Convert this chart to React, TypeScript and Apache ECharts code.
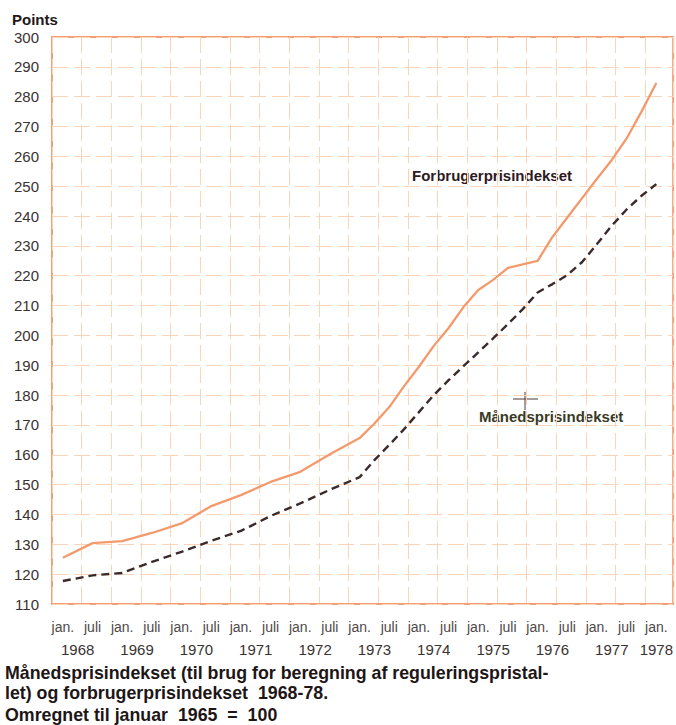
import React, { useEffect, useRef } from 'react';
import * as echarts from 'echarts';

// months since January 1968
const monthPoints = [0, 6, 12, 18, 24, 30, 36, 42, 48, 54, 60, 63, 66, 69, 72, 75, 78, 81, 84, 87, 90, 93, 96, 99, 102, 105, 108, 111, 114, 117, 120];
const forbrugerValues = [125.5, 130.4, 131.1, 133.8, 137, 142.8, 146.5, 150.9, 154.3, 160.2, 165.6, 170.5, 176, 183, 189.5, 196.5, 202.5, 209.5, 215.2, 218.6, 222.6, 223.8, 225, 233, 239.5, 246, 252.5, 258.8, 266, 275, 284.6];
const maanedsValues = [117.7, 119.6, 120.4, 124.1, 127.5, 131.2, 134.5, 139.5, 143.7, 148.3, 152.5, 158.2, 163.3, 168.6, 174.3, 180, 185, 189.7, 194.3, 199, 203.8, 208.8, 214.4, 217.2, 220.2, 224.6, 230.6, 236.8, 242.2, 246.8, 250.7];

const halfYearTicks = [0, 6, 12, 18, 24, 30, 36, 42, 48, 54, 60, 66, 72, 78, 84, 90, 96, 102, 108, 114, 120];
const halfYearLabels = ['jan.', 'juli', 'jan.', 'juli', 'jan.', 'juli', 'jan.', 'juli', 'jan.', 'juli', 'jan.', 'juli', 'jan.', 'juli', 'jan.', 'juli', 'jan.', 'juli', 'jan.', 'juli', 'jan.'];
const yearTicks = [3, 15, 27, 39, 51, 63, 75, 87, 99, 111, 120];
const yearLabels = ['1968', '1969', '1970', '1971', '1972', '1973', '1974', '1975', '1976', '1977', '1978'];

const FONT = '"Liberation Sans", Arial, sans-serif';
const GRID_LINE = { color: '#f9d4b8', width: 1, type: [16, 6] as number[] };

export default function App() {
  const ref = useRef<HTMLDivElement>(null);
  useEffect(() => {
    if (!ref.current) return;
    const chart = echarts.init(ref.current, null, { renderer: 'svg' });
    const xMin = -2.2;
    const xMax = 123.4;
    chart.setOption({
      animation: false,
      backgroundColor: '#ffffff',
      textStyle: { fontFamily: FONT },
      grid: {
        left: 52, right: 1, top: 37, bottom: 121,
        show: true, borderColor: '#f4a074', borderWidth: 2, backgroundColor: 'transparent',
      },
      xAxis: [
        {
          type: 'value', min: xMin, max: xMax,
          axisLine: { show: false }, axisTick: { show: false }, splitLine: { show: false },
          axisLabel: {
            customValues: halfYearTicks,
            formatter: (v: number) => halfYearLabels[halfYearTicks.indexOf(Math.round(v))] ?? '',
            fontSize: 14, color: '#4f4848', margin: 16, fontFamily: FONT,
          },
        },
        {
          type: 'value', min: xMin, max: xMax, position: 'bottom', offset: 22,
          axisLine: { show: false }, axisTick: { show: false }, splitLine: { show: false },
          axisLabel: {
            customValues: yearTicks,
            formatter: (v: number) => yearLabels[yearTicks.indexOf(Math.round(v))] ?? '',
            fontSize: 15, color: '#3a3232', margin: 16, fontFamily: FONT,
          },
        },
        {
          type: 'value', min: 0, max: 20.94, interval: 1, position: 'top',
          axisLine: { show: false }, axisTick: { show: false }, axisLabel: { show: false },
          splitLine: { show: true, lineStyle: GRID_LINE },
        },
      ],
      yAxis: {
        type: 'value', min: 110, max: 300, interval: 10,
        axisLine: { show: false }, axisTick: { show: false },
        splitLine: { show: true, lineStyle: GRID_LINE },
        axisLabel: { fontSize: 15, color: '#3a3232', margin: 13, fontFamily: FONT, padding: [9, 0, 0, 0] },
      },
      series: [
        {
          name: 'Forbrugerprisindekset', type: 'line', xAxisIndex: 0,
          data: monthPoints.map((m, i) => [m, forbrugerValues[i]]),
          showSymbol: false, symbol: 'none',
          lineStyle: { color: '#f39a6c', width: 2.3 },
        },
        {
          name: 'Månedsprisindekset', type: 'line', xAxisIndex: 0,
          data: monthPoints.map((m, i) => [m, maanedsValues[i]]),
          showSymbol: false, symbol: 'none',
          lineStyle: { color: '#3b2a2a', width: 2.4, type: [8, 5] },
        },
      ],
      graphic: [
        { type: 'text', x: 12, y: 19, style: { text: 'Points', font: `bold 15px ${FONT}`, fill: '#231818', verticalAlign: 'middle' } },
        { type: 'text', x: 412, y: 175, style: { text: 'Forbrugerprisindekset', font: `bold 15px ${FONT}`, fill: '#2e1a1e', verticalAlign: 'middle' } },
        { type: 'text', x: 479, y: 416, style: { text: 'Månedsprisindekset', font: `bold 15px ${FONT}`, fill: '#3a3a26', verticalAlign: 'middle' } },
        { type: 'line', shape: { x1: 513, y1: 399, x2: 538, y2: 399 }, style: { stroke: '#4a3a3a', lineWidth: 1 } },
        { type: 'line', shape: { x1: 525, y1: 392, x2: 525, y2: 410 }, style: { stroke: '#4a3a3a', lineWidth: 1 } },
        { type: 'text', x: 5, y: 673, style: { text: 'Månedsprisindekset (til brug for beregning af reguleringspristal-', font: `bold 17.8px ${FONT}`, fill: '#1e1616', verticalAlign: 'middle' } },
        { type: 'text', x: 5, y: 693, style: { text: 'let) og forbrugerprisindekset  1968-78.', font: `bold 17.8px ${FONT}`, fill: '#1e1616', verticalAlign: 'middle' } },
        { type: 'text', x: 5, y: 715, style: { text: 'Omregnet til januar  1965  =  100', font: `bold 17.8px ${FONT}`, fill: '#1e1616', verticalAlign: 'middle' } },
      ],
    });
    return () => chart.dispose();
  }, []);
  return <div ref={ref} style={{ position: 'absolute', left: 0, top: 0, width: 676, height: 725 }} />;
}
